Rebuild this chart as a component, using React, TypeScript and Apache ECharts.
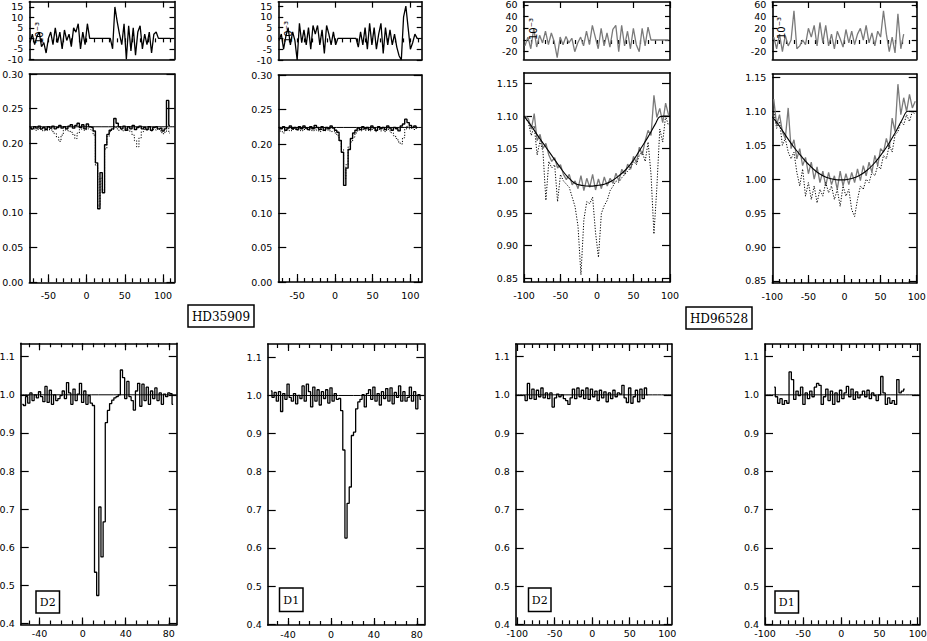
import { useEffect, useRef } from "react";
import * as echarts from "echarts";

// ---------------- tick labels ----------------
const resTicksHD35909 = [-10, -5, 0, 5, 10, 15];
const specTicksHD35909 = [0, 0.05, 0.1, 0.15, 0.2, 0.25, 0.3];
const velMajorHD35909 = [-50, 0, 50, 100];
const velMinorHD35909 = [-70, -60, -50, -40, -30, -20, -10, 0, 10, 20, 30, 40, 50, 60, 70, 80, 90, 100, 110];
const resTicksHD96528 = [-20, 0, 20, 40, 60];
const specTicksHD96528 = [0.85, 0.9, 0.95, 1.0, 1.05, 1.1, 1.15];
const velMajorHD96528 = [-100, -50, 0, 50, 100];
const velMinorHD96528 = [-90, -80, -70, -60, -50, -40, -30, -20, -10, 0, 10, 20, 30, 40, 50, 60, 70, 80, 90];
const naFluxTicks = [0.4, 0.5, 0.6, 0.7, 0.8, 0.9, 1.0, 1.1];
const naVelMajorHD35909 = [-40, 0, 40, 80];
const naVelMinorHD35909 = [-50, -40, -30, -20, -10, 0, 10, 20, 30, 40, 50, 60, 70, 80];

// ---------------- labels ----------------
const starNames = ["HD35909", "HD96528"];
const lineNames = ["D2", "D1", "D2", "D1"];
const residualUnit = "10⁻³";

// ---------------- HD35909, upper-left panel (velocity grid start / step, km/s) ----------------
const p1Start = -74;
const p1Step = 3;
const p1Resid = [-2, 2, -3, 1, 3, -4, -2, -7, 0, 3,
  -3, 5, -2, 3, -5, 4, -1, 2, -4, 5,
  3, 7, -5, 3, -3, 7, 0, 0, 0, 0,
  0, 0, 0, 0, 0, 0, -5, 15, 8, 2,
  -3, 7, -10, 6, -6, 5, -8, 3, 6, -5,
  2, -3, 3, -7, 2, 3, 0, 0, 0, 0,
  0, 0];
const p1Flux = [0.223, 0.221, 0.224, 0.222, 0.225, 0.221, 0.223, 0.220, 0.224, 0.222,
  0.225, 0.221, 0.223, 0.226, 0.222, 0.224, 0.221, 0.225, 0.227, 0.222,
  0.226, 0.229, 0.223, 0.227, 0.221, 0.228, 0.224, 0.223, 0.218, 0.172,
  0.106, 0.158, 0.129, 0.198, 0.213, 0.219, 0.221, 0.236, 0.229, 0.224,
  0.221, 0.225, 0.219, 0.224, 0.221, 0.226, 0.220, 0.223, 0.225, 0.221,
  0.223, 0.220, 0.224, 0.219, 0.223, 0.224, 0.221, 0.222, 0.218, 0.221,
  0.262, 0.226];
const p1Raw = [0.222, 0.220, 0.221, 0.219, 0.222, 0.220, 0.218, 0.221, 0.219, 0.222,
  0.217, 0.214, 0.209, 0.203, 0.212, 0.219, 0.221, 0.218, 0.216, 0.213,
  0.207, 0.215, 0.220, 0.222, 0.219, 0.221, 0.220, 0.219, 0.212, 0.168,
  0.110, 0.150, 0.133, 0.192, 0.210, 0.217, 0.220, 0.224, 0.221, 0.219,
  0.220, 0.218, 0.221, 0.219, 0.217, 0.212, 0.204, 0.195, 0.208, 0.217,
  0.220, 0.219, 0.221, 0.218, 0.220, 0.219, 0.221, 0.218, 0.214, 0.216,
  0.222, 0.215];
const p1Continuum = 0.224;

// ---------------- HD35909, upper-second panel ----------------
const p2Start = -74;
const p2Step = 3;
const p2Resid = [-1, 2, -5, 1, 5, -3, 3, -1, -10, 7,
  -2, 4, -3, 5, -5, 6, 2, 6, -3, 4,
  -7, 6, 2, -3, 3, -3, 0, 0, 0, 0,
  0, 0, 0, 0, 0, -4, 3, -3, 5, -5,
  7, -3, 5, -5, 2, 7, -7, 5, -3, 4,
  -3, 2, -4, -8, -10, 10, 15, 5, -5, -2,
  2, 0];
const p2Flux = [0.224, 0.222, 0.225, 0.220, 0.223, 0.226, 0.222, 0.224, 0.221, 0.225,
  0.222, 0.226, 0.223, 0.221, 0.225, 0.222, 0.227, 0.224, 0.221, 0.225,
  0.220, 0.224, 0.222, 0.226, 0.223, 0.220, 0.217, 0.205, 0.188, 0.140,
  0.165, 0.192, 0.208, 0.216, 0.220, 0.223, 0.221, 0.225, 0.222, 0.224,
  0.221, 0.226, 0.223, 0.220, 0.225, 0.222, 0.224, 0.221, 0.226, 0.223,
  0.220, 0.224, 0.222, 0.219, 0.226, 0.229, 0.236, 0.231, 0.227, 0.224,
  0.226, 0.224];
const p2Raw = [0.222, 0.218, 0.216, 0.220, 0.222, 0.219, 0.221, 0.223, 0.220, 0.222,
  0.219, 0.221, 0.223, 0.220, 0.222, 0.219, 0.222, 0.220, 0.218, 0.221,
  0.219, 0.222, 0.220, 0.218, 0.219, 0.216, 0.212, 0.205, 0.192, 0.150,
  0.170, 0.196, 0.203, 0.210, 0.216, 0.220, 0.219, 0.221, 0.220, 0.222,
  0.219, 0.221, 0.220, 0.218, 0.221, 0.219, 0.220, 0.218, 0.221, 0.219,
  0.216, 0.212, 0.208, 0.203, 0.200, 0.209, 0.222, 0.226, 0.222, 0.224,
  0.221, 0.223];
const p2Continuum = 0.224;

// ---------------- HD96528, upper-third panel ----------------
const p3Start = -98;
const p3Step = 4;
const p3Resid = [-10, 5, -15, 20, -12, 8, -5, 15, -8, 12,
  -3, -30, 5, -8, 6, -5, 3, -20, -5, 5,
  -10, 15, -8, 25, 5, -15, 20, -10, 12, -12,
  18, 25, -20, 25, -10, 15, -15, 20, -8, -20,
  20, -10, 22, 0, 0, 0, 0, 0, 0, 0];
const p3Obs = [1.100, 1.096, 1.080, 1.104, 1.062, 1.072, 1.050, 1.058, 1.040, 1.030,
  1.036, 1.020, 1.025, 1.010, 1.002, 1.010, 0.994, 1.000, 0.988, 1.008,
  0.985, 1.004, 0.990, 1.010, 0.986, 1.003, 0.988, 1.006, 0.992, 1.004,
  0.996, 1.012, 1.000, 1.018, 1.010, 1.026, 1.018, 1.038, 1.028, 1.052,
  1.040, 1.062, 1.078, 1.070, 1.132, 1.098, 1.112, 1.090, 1.120, 1.102];
const p3Raw = [1.098, 1.090, 1.070, 1.085, 1.040, 1.062, 1.045, 0.970, 1.030, 1.020,
  1.025, 0.968, 1.010, 1.000, 0.995, 0.990, 0.975, 0.960, 0.930, 0.855,
  0.940, 0.968, 0.965, 0.975, 0.920, 0.882, 0.950, 0.962, 0.970, 0.985,
  0.992, 1.000, 0.998, 1.005, 1.010, 1.015, 1.020, 1.030, 1.025, 1.040,
  1.045, 1.030, 1.060, 1.010, 0.918, 0.990, 1.080, 1.060, 1.100, 1.085];
const p3FitVel = [-100, -90, -80, -70, -60, -50, -40, -30, -20, -10, 0, 10, 20, 30, 40, 50, 60, 70, 80, 86, 92, 100];
const p3Fit = [1.100, 1.085, 1.068, 1.052, 1.036, 1.020, 1.006, 0.996, 0.993, 0.992, 0.993, 0.995, 1.000, 1.008, 1.018, 1.032, 1.050, 1.068, 1.088, 1.099, 1.100, 1.100];

// ---------------- HD96528, upper-right panel ----------------
const p4Start = -98;
const p4Step = 4;
const p4Resid = [5, -15, 10, -20, 8, -10, 0, 50, -15, -10,
  0, -8, 20, 5, 25, -10, 30, -5, 25, -10,
  10, -15, 15, 2, -12, 18, -5, 15, -8, 10,
  20, 0, 25, -5, 12, -10, 15, 5, 50, 10,
  -20, 5, -22, 45, -15, 10];
const p4Obs = [1.118, 1.080, 1.095, 1.070, 1.060, 1.105, 1.045, 1.058, 1.030, 1.045,
  1.020, 1.032, 1.008, 1.025, 1.000, 1.018, 0.995, 1.012, 0.990, 1.010,
  0.992, 1.005, 0.985, 1.012, 0.990, 1.008, 0.992, 1.010, 0.995, 1.015,
  0.998, 1.020, 1.005, 1.025, 1.010, 1.035, 1.020, 1.045, 1.040, 1.060,
  1.045, 1.090, 1.070, 1.140, 1.095, 1.120, 1.100, 1.125, 1.105, 1.115];
const p4Raw = [1.100, 1.075, 1.085, 1.050, 1.060, 1.040, 1.030, 1.040, 1.010, 0.990,
  1.015, 0.975, 0.995, 0.970, 0.990, 0.965, 0.985, 0.975, 0.995, 0.980,
  0.990, 0.970, 0.985, 0.960, 0.990, 0.975, 0.985, 0.955, 0.945, 0.970,
  0.990, 0.985, 1.000, 0.995, 1.010, 1.005, 1.020, 1.015, 1.035, 1.030,
  1.050, 1.040, 1.065, 1.070, 1.085, 1.080, 1.095, 1.085, 1.100, 1.095];
const p4FitVel = [-100, -90, -80, -70, -60, -50, -40, -30, -20, -10, 0, 10, 20, 30, 40, 50, 60, 70, 80, 88, 100];
const p4Fit = [1.092, 1.078, 1.062, 1.047, 1.034, 1.022, 1.012, 1.005, 1.001, 0.999, 0.999, 1.001, 1.005, 1.012, 1.022, 1.035, 1.050, 1.068, 1.088, 1.100, 1.100];

// ---------------- Na D panels (normalised) ----------------
const b1Start = -56;
const b1Step = 2;
const b1Flux = [0.975, 0.972, 0.995, 0.978, 1.005, 0.985, 1.000, 0.992, 1.008, 0.995,
  0.982, 1.022, 0.980, 1.012, 0.975, 1.000, 0.985, 0.990, 0.998, 1.010,
  0.990, 1.032, 1.005, 0.975, 1.015, 0.985, 1.002, 1.030, 0.980, 1.010,
  0.975, 0.998, 0.978, 0.972, 0.535, 0.474, 0.706, 0.575, 0.667, 0.927,
  0.959, 0.977, 0.986, 0.992, 0.995, 1.000, 1.065, 1.045, 0.990, 1.035,
  0.995, 0.985, 0.960, 1.010, 1.030, 0.970, 1.028, 0.985, 1.020, 0.975,
  1.010, 0.990, 1.018, 0.985, 1.005, 0.975, 1.002, 0.995, 1.005, 1.003,
  0.975];
const b2Start = -56;
const b2Step = 2;
const b2Flux = [1.012, 0.995, 1.008, 0.985, 1.010, 0.958, 1.005, 0.990, 1.030, 0.995,
  0.985, 1.005, 0.978, 1.000, 0.992, 1.025, 0.985, 1.030, 1.010, 0.970,
  1.022, 0.985, 1.015, 0.975, 1.010, 0.992, 1.015, 0.980, 1.020, 0.985,
  1.005, 0.990, 0.992, 0.960, 0.857, 0.626, 0.717, 0.760, 0.895, 0.904,
  0.965, 0.983, 0.990, 1.002, 0.970, 1.005, 1.015, 0.990, 1.022, 0.985,
  1.005, 0.975, 1.010, 0.992, 1.018, 0.985, 1.020, 0.978, 1.008, 0.995,
  1.025, 0.985, 1.010, 0.985, 0.995, 1.022, 0.985, 1.010, 0.965, 1.002,
  0.990];
const b3Start = -91;
const b3Step = 3;
const b3Flux = [0.998, 0.985, 1.030, 0.990, 1.015, 0.988, 1.012, 0.995, 1.018, 0.992,
  1.005, 0.990, 1.005, 0.968, 0.992, 1.002, 0.995, 1.000, 0.990, 0.985,
  0.975, 0.992, 1.015, 0.990, 1.018, 0.995, 1.012, 0.990, 1.018, 0.988,
  1.015, 0.995, 1.010, 0.985, 1.012, 0.992, 1.008, 0.982, 1.005, 0.990,
  1.012, 0.995, 1.005, 1.002, 1.025, 0.992, 0.980, 1.018, 0.978, 0.995,
  1.012, 0.982, 1.015, 0.990, 1.018, 1.000];
const b4Start = -88;
const b4Step = 3;
const b4Flux = [1.020, 0.995, 0.978, 0.990, 0.975, 0.985, 0.978, 1.060, 1.040, 0.988,
  1.010, 0.998, 1.020, 0.975, 1.005, 0.990, 1.010, 0.995, 1.020, 1.030,
  1.025, 0.975, 0.995, 1.015, 0.985, 1.010, 0.975, 1.005, 0.982, 1.012,
  0.990, 1.005, 1.022, 0.995, 1.015, 0.988, 1.008, 0.992, 1.000, 1.010,
  0.995, 1.012, 0.990, 1.005, 0.998, 0.985, 1.000, 1.048, 1.005, 0.975,
  0.992, 0.978, 0.985, 0.975, 1.040, 1.005, 1.010, 1.015];
const naContinuum = 1.0;

// ---------------- helpers ----------------
const FONT = "DejaVu Sans";
const SERIF = "DejaVu Serif";

function sampled(start: number, step: number, ys: number[]) {
  return ys.map((y, i) => [start + i * step, y]);
}
function pairs(xs: number[], ys: number[]) {
  return xs.map((x, i) => [x, ys[i]]);
}

interface PanelSpec {
  rect: number[];
  x: number[];
  y: number[];
  xMajor: number[];
  xMinor: number[];
  yTicks: number[];
  yDec: number;
  xLabels: boolean;
  bottomTicks: boolean;
  topTicks: boolean;
  yTickLen: number;
  xTickLen: number;
  xMinorLen: number;
  labelMargin?: number;
}

function buildOption() {
  const grid: any[] = [];
  const xAxis: any[] = [];
  const yAxis: any[] = [];
  const series: any[] = [];

  const frame = { show: true, onZero: false, lineStyle: { color: "#000", width: 1.6 } };
  const tickStyle = { color: "#000", width: 1.2 };
  const labelStyle = { color: "#000", fontSize: 9.5, fontFamily: FONT };

  function addPanel(p: PanelSpec) {
    const g = grid.length;
    grid.push({
      left: p.rect[0], top: p.rect[1], width: p.rect[2], height: p.rect[3],
      containLabel: false, outerBoundsMode: "none",
    });
    const xb = { gridIndex: g, type: "value", min: p.x[0], max: p.x[1], splitLine: { show: false } };
    const xi = xAxis.length;
    xAxis.push({
      ...xb, position: "bottom", axisLine: frame,
      axisTick: { show: p.bottomTicks, inside: true, length: p.xTickLen, customValues: p.xMajor, lineStyle: tickStyle },
      axisLabel: { show: p.xLabels, customValues: p.xMajor, margin: p.labelMargin ?? 8, ...labelStyle },
    });
    xAxis.push({
      ...xb, position: "bottom", axisLine: { show: false },
      axisTick: { show: p.bottomTicks, inside: true, length: p.xMinorLen, customValues: p.xMinor, lineStyle: tickStyle },
      axisLabel: { show: false },
    });
    xAxis.push({
      ...xb, position: "top", axisLine: frame,
      axisTick: { show: p.topTicks, inside: true, length: p.xTickLen, customValues: p.xMajor, lineStyle: tickStyle },
      axisLabel: { show: false },
    });
    xAxis.push({
      ...xb, position: "top", axisLine: { show: false },
      axisTick: { show: p.topTicks, inside: true, length: p.xMinorLen, customValues: p.xMinor, lineStyle: tickStyle },
      axisLabel: { show: false },
    });
    const yb = { gridIndex: g, type: "value", min: p.y[0], max: p.y[1], splitLine: { show: false } };
    const yi = yAxis.length;
    yAxis.push({
      ...yb, position: "left", axisLine: frame,
      axisTick: { show: true, inside: true, length: p.yTickLen, customValues: p.yTicks, lineStyle: tickStyle },
      axisLabel: {
        show: true, customValues: p.yTicks, margin: 6, ...labelStyle,
        formatter: (v: number) => v.toFixed(p.yDec),
      },
    });
    yAxis.push({
      ...yb, position: "right", axisLine: frame,
      axisTick: { show: true, inside: true, length: p.yTickLen, customValues: p.yTicks, lineStyle: tickStyle },
      axisLabel: { show: false },
    });
    return { x: xi, y: yi };
  }

  function line(ax: { x: number; y: number }, data: number[][], color: string, width: number, opts: any = {}) {
    series.push({
      type: "line", xAxisIndex: ax.x, yAxisIndex: ax.y, data,
      step: opts.smooth || opts.poly ? undefined : "middle",
      smooth: opts.smooth ? 0.4 : false,
      symbol: "none", showSymbol: false, silent: true, z: opts.z ?? 2,
      lineStyle: { color, width, type: opts.dash ?? "solid" },
    });
  }

  const dotted = [1.2, 1.6];

  // ---- HD35909 top panels ----
  const r1 = addPanel({ rect: [29.3, 1.5, 145.2, 57.8], x: [-75, 115], y: [-10, 17.6], xMajor: velMajorHD35909, xMinor: velMinorHD35909, yTicks: resTicksHD35909, yDec: 0, xLabels: false, bottomTicks: false, topTicks: true, yTickLen: 5, xTickLen: 6, xMinorLen: 4 });
  const s1 = addPanel({ rect: [29.3, 74, 145.2, 208.3], x: [-75, 115], y: [0, 0.3], xMajor: velMajorHD35909, xMinor: velMinorHD35909, yTicks: specTicksHD35909, yDec: 2, xLabels: true, bottomTicks: true, topTicks: false, yTickLen: 8, xTickLen: 8, xMinorLen: 4 });
  const r2 = addPanel({ rect: [278.3, 1.7, 143.4, 58.3], x: [-75, 115], y: [-10, 17], xMajor: velMajorHD35909, xMinor: velMinorHD35909, yTicks: resTicksHD35909, yDec: 0, xLabels: false, bottomTicks: false, topTicks: true, yTickLen: 5, xTickLen: 6, xMinorLen: 4 });
  const s2 = addPanel({ rect: [278.3, 75, 143.4, 207], x: [-75, 115], y: [0, 0.3], xMajor: velMajorHD35909, xMinor: velMinorHD35909, yTicks: specTicksHD35909, yDec: 2, xLabels: true, bottomTicks: true, topTicks: false, yTickLen: 8, xTickLen: 8, xMinorLen: 4 });
  // ---- HD96528 top panels ----
  const r3 = addPanel({ rect: [523.5, 2, 146.5, 57.3], x: [-100, 100], y: [-33, 65], xMajor: velMajorHD96528, xMinor: velMinorHD96528, yTicks: resTicksHD96528, yDec: 0, xLabels: false, bottomTicks: false, topTicks: true, yTickLen: 5, xTickLen: 6, xMinorLen: 4 });
  const s3 = addPanel({ rect: [524, 72.7, 146, 209.3], x: [-100, 100], y: [0.844, 1.167], xMajor: velMajorHD96528, xMinor: velMinorHD96528, yTicks: specTicksHD96528, yDec: 2, xLabels: true, bottomTicks: true, topTicks: false, yTickLen: 8, xTickLen: 8, xMinorLen: 4 });
  const r4 = addPanel({ rect: [772.3, 2, 144.4, 57.3], x: [-100, 100], y: [-33, 65], xMajor: velMajorHD96528, xMinor: velMinorHD96528, yTicks: resTicksHD96528, yDec: 0, xLabels: false, bottomTicks: false, topTicks: true, yTickLen: 5, xTickLen: 6, xMinorLen: 4 });
  const s4 = addPanel({ rect: [772.3, 74, 144.4, 209], x: [-100, 100], y: [0.847, 1.155], xMajor: velMajorHD96528, xMinor: velMinorHD96528, yTicks: specTicksHD96528, yDec: 2, xLabels: true, bottomTicks: true, topTicks: false, yTickLen: 8, xTickLen: 8, xMinorLen: 4 });
  // ---- Na D panels ----
  const b1 = addPanel({ rect: [20.7, 343.3, 156, 281.2], x: [-57.5, 87.3], y: [0.398, 1.135], xMajor: naVelMajorHD35909, xMinor: naVelMinorHD35909, yTicks: naFluxTicks, yDec: 1, xLabels: true, bottomTicks: true, topTicks: true, yTickLen: 8, xTickLen: 7, xMinorLen: 4, labelMargin: 4 });
  const b2 = addPanel({ rect: [267.7, 344, 156.6, 281], x: [-59, 87], y: [0.398, 1.135], xMajor: naVelMajorHD35909, xMinor: naVelMinorHD35909, yTicks: naFluxTicks, yDec: 1, xLabels: true, bottomTicks: true, topTicks: true, yTickLen: 8, xTickLen: 7, xMinorLen: 4, labelMargin: 4 });
  const b3 = addPanel({ rect: [515.7, 344, 156, 280.3], x: [-102, 106], y: [0.4, 1.133], xMajor: velMajorHD96528, xMinor: velMinorHD96528, yTicks: naFluxTicks, yDec: 1, xLabels: true, bottomTicks: true, topTicks: true, yTickLen: 8, xTickLen: 7, xMinorLen: 4, labelMargin: 4 });
  const b4 = addPanel({ rect: [765, 344, 155, 280.3], x: [-100, 103], y: [0.4, 1.133], xMajor: velMajorHD96528, xMinor: velMinorHD96528, yTicks: naFluxTicks, yDec: 1, xLabels: true, bottomTicks: true, topTicks: true, yTickLen: 8, xTickLen: 7, xMinorLen: 4, labelMargin: 4 });

  const BLACK = "#000";
  const GRAY = "#7a7a7a";

  line(r1, sampled(p1Start, p1Step, p1Resid), BLACK, 1.3, { poly: true });
  line(s1, sampled(p1Start, p1Step, p1Raw), BLACK, 1, { dash: dotted });
  line(s1, sampled(p1Start, p1Step, p1Flux), BLACK, 1.4);
  line(s1, [[-75, p1Continuum], [115, p1Continuum]], BLACK, 1, { smooth: true });

  line(r2, sampled(p2Start, p2Step, p2Resid), BLACK, 1.3, { poly: true });
  line(s2, sampled(p2Start, p2Step, p2Raw), BLACK, 1, { dash: dotted });
  line(s2, sampled(p2Start, p2Step, p2Flux), BLACK, 1.4);
  line(s2, [[-75, p2Continuum], [115, p2Continuum]], BLACK, 1, { smooth: true });

  line(r3, sampled(p3Start, p3Step, p3Resid), GRAY, 1.3, { poly: true });
  line(s3, sampled(p3Start, p3Step, p3Obs), GRAY, 1.3, { poly: true });
  line(s3, sampled(p3Start, p3Step, p3Raw), BLACK, 1, { dash: dotted, poly: true });
  line(s3, pairs(p3FitVel, p3Fit), BLACK, 1.1, { smooth: true, z: 3 });

  line(r4, sampled(p4Start, p4Step, p4Resid), GRAY, 1.3, { poly: true });
  line(s4, sampled(p4Start, p4Step, p4Obs), GRAY, 1.3, { poly: true });
  line(s4, sampled(p4Start, p4Step, p4Raw), BLACK, 1, { dash: dotted, poly: true });
  line(s4, pairs(p4FitVel, p4Fit), BLACK, 1.1, { smooth: true, z: 3 });

  line(b1, sampled(b1Start, b1Step, b1Flux), BLACK, 1.3);
  line(b1, [[-57.5, naContinuum], [87.3, naContinuum]], BLACK, 1, { smooth: true });
  line(b2, sampled(b2Start, b2Step, b2Flux), BLACK, 1.3);
  line(b2, [[-59, naContinuum], [87, naContinuum]], BLACK, 1, { smooth: true });
  line(b3, sampled(b3Start, b3Step, b3Flux), BLACK, 1.3);
  line(b3, [[-102, naContinuum], [106, naContinuum]], BLACK, 1, { smooth: true });
  line(b4, sampled(b4Start, b4Step, b4Flux), BLACK, 1.3);
  line(b4, [[-100, naContinuum], [103, naContinuum]], BLACK, 1, { smooth: true });

  const box = (x: number, y: number, w: number, h: number, text: string, size: number) => [
    { type: "rect", shape: { x, y, width: w, height: h }, style: { fill: "#fff", stroke: "#000", lineWidth: 1.5 }, z: 10 },
    {
      type: "text", x: x + w / 2, y: y + h / 2 + 0.5, z: 11,
      style: { text, fill: "#000", font: `${size}px "${SERIF}"`, textAlign: "center", textVerticalAlign: "middle", align: "center", verticalAlign: "middle" },
    },
  ];
  const unitText = (x: number, y: number) => ({
    type: "text", x, y, rotation: Math.PI / 2, z: 11,
    style: { text: residualUnit, fill: "#000", font: `10px "${FONT}"`, textAlign: "center", textVerticalAlign: "middle", align: "center", verticalAlign: "middle" },
  });

  const graphic = [
    ...box(188, 305, 66, 22, starNames[0], 12),
    ...box(686, 307, 66, 22, starNames[1], 12),
    ...box(36, 591, 23.5, 22, lineNames[0], 11),
    ...box(279.5, 588, 23.5, 23.5, lineNames[1], 11),
    ...box(528.5, 588, 22.5, 23.5, lineNames[2], 11),
    ...box(775, 591, 23.5, 22, lineNames[3], 11),
    unitText(39, 33),
    unitText(288, 32),
    unitText(533, 29),
    unitText(781, 28),
  ];

  return { animation: false, grid, xAxis, yAxis, series, graphic, textStyle: { fontFamily: FONT } };
}

export default function App() {
  const ref = useRef<HTMLDivElement>(null);
  useEffect(() => {
    document.body.style.margin = "0";
    if (!ref.current) return;
    const chart = echarts.init(ref.current, undefined, { renderer: "svg" });
    chart.setOption(buildOption() as any);
    return () => chart.dispose();
  }, []);
  return <div ref={ref} style={{ width: 927, height: 641, background: "#fff" }} />;
}
